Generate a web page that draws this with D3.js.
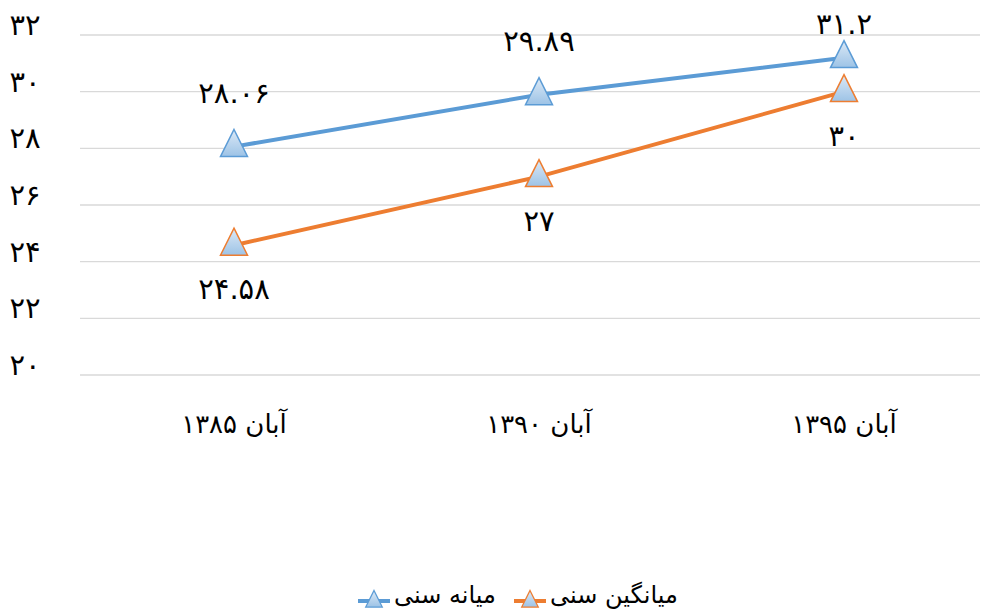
<!DOCTYPE html>
<html>
<head>
<meta charset="utf-8">
<script src="https://cdn.jsdelivr.net/npm/d3@7"></script>
<style>
  body { margin: 0; background: #fff; }
  text { font-family: "DejaVu Sans", sans-serif; fill: #000; }
</style>
</head>
<body>
<div id="chart"></div>
<script>
// data
const categories = ["آبان ۱۳۸۵", "آبان ۱۳۹۰", "آبان ۱۳۹۵"];
const medianValues = [28.06, 29.89, 31.2];
const meanValues = [24.58, 27, 30];
const yTicks = [20, 22, 24, 26, 28, 30, 32];
const seriesNames = ["میانه سنی", "میانگین سنی"];

const width = 988, height = 613;
const margin = { top: 35, right: 8, bottom: 238, left: 80 };

const faDigits = "۰۱۲۳۴۵۶۷۸۹";
function toFa(v) {
  return String(v).replace(/[0-9]/g, function(d) { return faDigits[+d]; });
}

let svg = d3.select("#chart")
    .append("svg")
    .attr("width", width)
    .attr("height", height);

let defs = svg.append("defs");
let grad = defs.append("linearGradient")
    .attr("id", "markerFill")
    .attr("x1", 0).attr("y1", 0).attr("x2", 0).attr("y2", 1);
grad.append("stop").attr("offset", "0%").attr("stop-color", "#dce9f6");
grad.append("stop").attr("offset", "100%").attr("stop-color", "#9dc3e6");

let x = d3.scalePoint()
    .domain(categories)
    .range([81.5, 996.5])
    .padding(0.5);

let y = d3.scaleLinear()
    .domain([20, 32])
    .range([height - margin.bottom, margin.top]);

// gridlines
svg.append("g")
    .selectAll("line")
    .data(yTicks)
    .enter()
    .append("line")
    .attr("x1", margin.left)
    .attr("x2", 980)
    .attr("y1", function(d) { return y(d); })
    .attr("y2", function(d) { return y(d); })
    .attr("stroke", "#d9d9d9")
    .attr("stroke-width", 1.3);

// y labels
svg.append("g")
    .selectAll("text")
    .data(yTicks)
    .enter()
    .append("text")
    .attr("x", 25)
    .attr("y", function(d) { return y(d) - 8; })
    .attr("text-anchor", "middle")
    .attr("dominant-baseline", "middle")
    .style("font-size", "29px")
    .text(function(d) { return toFa(d); });

// x labels
svg.append("g")
    .selectAll("text")
    .data(categories)
    .enter()
    .append("text")
    .attr("x", function(d) { return x(d); })
    .attr("y", 425)
    .attr("text-anchor", "middle")
    .attr("dominant-baseline", "middle")
    .style("font-size", "26px")
    .text(function(d) { return d; });

function triangle(cx, cy, s) {
  return `M${cx},${cy - s * 0.95} L${cx + s * 0.75},${cy + s * 0.55} L${cx - s * 0.75},${cy + s * 0.55} Z`;
}

let line = d3.line()
    .x(function(d, i) { return x(categories[i]); })
    .y(function(d) { return y(d); });

function drawSeries(values, color, labelOffset) {
  let g = svg.append("g");
  g.append("path")
      .datum(values)
      .attr("d", line)
      .attr("fill", "none")
      .attr("stroke", color)
      .attr("stroke-width", 4);
  g.selectAll("path.marker")
      .data(values)
      .enter()
      .append("path")
      .attr("class", "marker")
      .attr("d", function(d, i) { return triangle(x(categories[i]), y(d), 18); })
      .attr("fill", "url(#markerFill)")
      .attr("stroke", color)
      .attr("stroke-width", 1.5);
  g.selectAll("text")
      .data(values)
      .enter()
      .append("text")
      .attr("x", function(d, i) { return x(categories[i]); })
      .attr("y", function(d) { return Math.max(26, y(d) + labelOffset); })
      .attr("text-anchor", "middle")
      .attr("dominant-baseline", "middle")
      .style("font-size", "29px")
      .text(function(d) { return toFa(d); });
}

drawSeries(medianValues, "#5b9bd5", -52);
drawSeries(meanValues, "#ed7d31", 46);

// legend
let legendItems = [
  { name: seriesNames[0], color: "#5b9bd5", mx: 374, tx: 394 },
  { name: seriesNames[1], color: "#ed7d31", mx: 530, tx: 550 }
];
let legend = svg.append("g");
legendItems.forEach(function(it) {
  legend.append("line")
      .attr("x1", it.mx - 16).attr("x2", it.mx + 16)
      .attr("y1", 601).attr("y2", 601)
      .attr("stroke", it.color)
      .attr("stroke-width", 4);
  legend.append("path")
      .attr("d", triangle(it.mx, 601, 11))
      .attr("fill", "url(#markerFill)")
      .attr("stroke", it.color)
      .attr("stroke-width", 1.3);
  legend.append("text")
      .attr("x", it.tx)
      .attr("y", 596)
      .attr("text-anchor", "start")
      .attr("dominant-baseline", "middle")
      .style("font-size", "24px")
      .text(it.name);
});
</script>
</body>
</html>
